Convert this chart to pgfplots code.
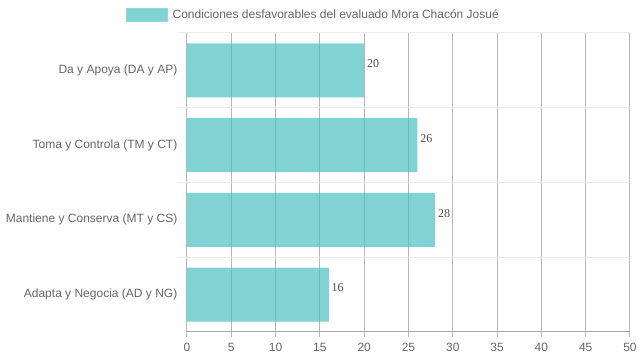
\documentclass[border=0pt]{standalone}
\usepackage{fontspec}
\setmainfont{Liberation Sans}
\newfontfamily\seriffont{Liberation Serif}
\usepackage{pgfplots}
\pgfplotsset{compat=1.18}
\definecolor{barc}{RGB}{75,192,192}
\definecolor{txt}{RGB}{102,102,102}
\begin{document}
\begin{tikzpicture}
\path[use as bounding box] (0,0) rectangle (479.25pt,270pt);
\begin{axis}[
  at={(140.25pt,21pt)}, anchor=south west,
  scale only axis, width=332.25pt, height=224.25pt,
  /pgf/number format/assume math mode=true,
  xbar, bar width=0.72,
  xmin=0, xmax=50, xtick={0,5,...,50},
  ymin=-0.5, ymax=3.5, ytick={0,1,2,3},
  yticklabels={Adapta y Negocia (AD y NG), Mantiene y Conserva (MT y CS), Toma y Controla (TM y CT), Da y Apoya (DA y AP)},
  minor ytick={0.5,1.5,2.5,3.5},
  xmajorgrids, yminorgrids,
  major x grid style={black!28, line width=0.75pt},
  minor y grid style={black!8, line width=0.75pt},
  axis x line*=bottom, axis y line*=left,
  x axis line style={black!35, line width=0.75pt, -},
  y axis line style={draw=none},
  tick align=outside,
  major tick length=3.75pt, minor tick length=7.5pt,
  xtick style={black!28, line width=0.75pt},
  every major y tick/.style={draw=none},
  every minor y tick/.style={draw=black!8, line width=0.75pt},
  tick label style={font=\fontsize{9}{10}\selectfont, text=txt},
  yticklabel style={xshift=0pt},
  xticklabel style={yshift=-1pt},
  nodes near coords,
  nodes near coords style={font=\seriffont\fontsize{9}{10}\selectfont, text=black, anchor=west, yshift=5pt, inner sep=2pt},
  legend style={at={(-0.1377,1.0602)}, anchor=west, draw=none, fill=none, inner sep=0pt,
    font=\fontsize{9}{10}\selectfont, text=txt},
  legend image code/.code={\draw[fill=barc, fill opacity=0.7, draw=barc!60, line width=0.5pt] (0pt,-4.875pt) rectangle (30.75pt,4.875pt);},
]
\addplot[draw=none, fill=barc, fill opacity=0.7] coordinates {(16,0) (28,1) (26,2) (20,3)};
\addlegendentry{\hspace{1.5pt}Condiciones desfavorables del evaluado Mora Chacón Josué}
\end{axis}
\end{tikzpicture}
\end{document}
